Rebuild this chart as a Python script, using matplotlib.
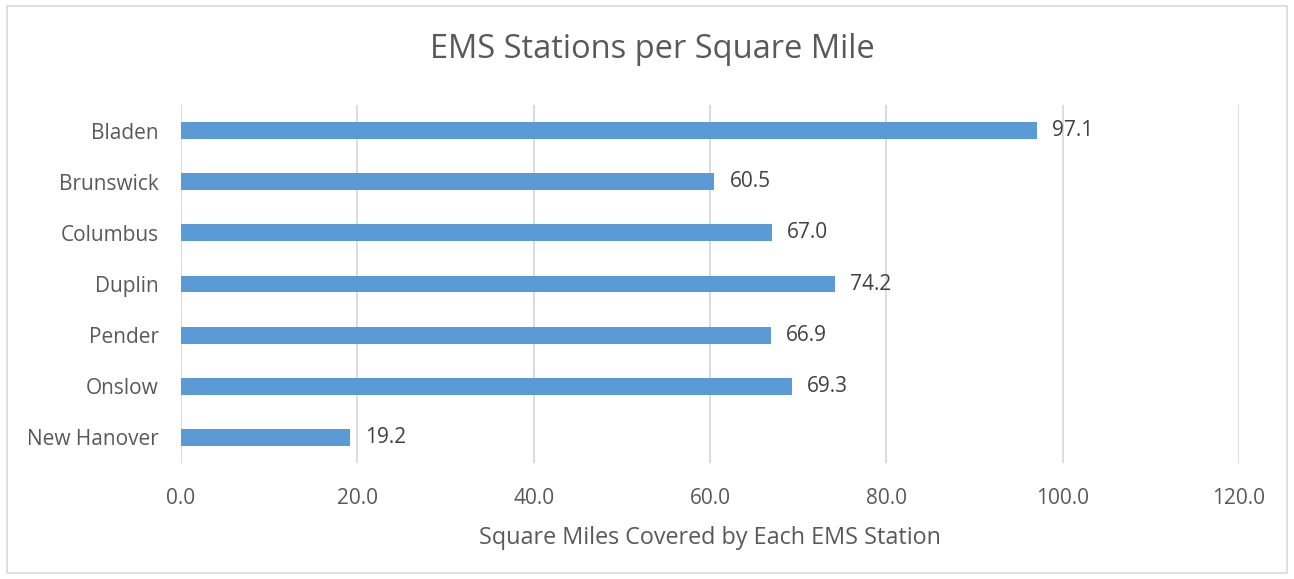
import matplotlib
matplotlib.use("Agg")
import matplotlib.pyplot as plt
from matplotlib.patches import Rectangle

categories = ["Bladen", "Brunswick", "Columbus", "Duplin", "Pender", "Onslow", "New Hanover"]
values = [97.1, 60.5, 67.0, 74.2, 66.9, 69.3, 19.2]
xticks = [0, 20, 40, 60, 80, 100, 120]

plt.rcParams['font.family'] = ['Open Sans', 'DejaVu Sans']

fig = plt.figure(figsize=(12.94, 5.79), dpi=100)
ax = fig.add_axes([181/1294, 1-463/579, (1239-181)/1294, (463-105)/579])

n = len(categories)
ypos = list(range(n))
ax.barh(ypos, values, height=0.33, color="#5B9BD5", zorder=3)
ax.set_ylim(n - 0.5, -0.5)
ax.set_xlim(0, 120)
ax.set_yticks(ypos)
ax.set_yticklabels(categories, fontsize=15, color="#595959")
ax.set_xticks(xticks)
ax.set_xticklabels([f"{t:.1f}" for t in xticks], fontsize=15, color="#595959")
ax.tick_params(axis='both', length=0)
ax.tick_params(axis='x', pad=18)
ax.tick_params(axis='y', pad=16)
ax.grid(axis='x', color="#D9D9D9", linewidth=1.3, zorder=0)
for s in ax.spines.values():
    s.set_visible(False)

for y, v in zip(ypos, values):
    ax.text(v + 1.7, y, f"{v:.1f}", va='center', ha='left', fontsize=15, color="#404040")

ax.set_xlabel("Square Miles Covered by Each EMS Station", fontsize=16.8, color="#595959", labelpad=12)
fig.text(652/1294, 1-49/579, "EMS Stations per Square Mile", ha='center', va='center',
         fontsize=23.5, color="#595959")

fig.patches.append(Rectangle((7/1294, 1-573/579), (1287-7)/1294, (573-6)/579,
                             transform=fig.transFigure, fill=False, edgecolor="#D9D9D9", linewidth=1.2))

fig.savefig("out.png", dpi=100, facecolor="white")
